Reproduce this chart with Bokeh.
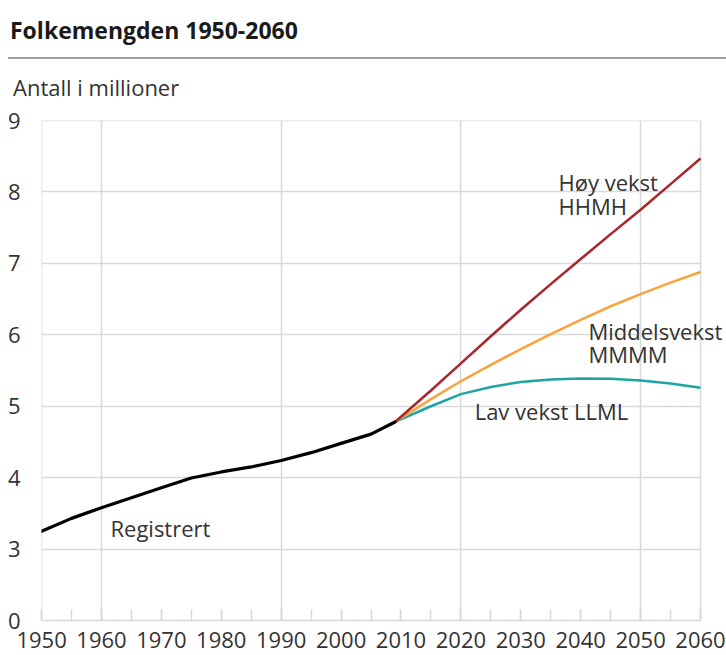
from bokeh.plotting import figure
from bokeh.models import Range1d, FixedTicker, Div
from bokeh.layouts import column
from bokeh.core.properties import value
from bokeh.embed import file_html
from bokeh.resources import INLINE

FONT = "Open Sans"
TXT = "#333333"
GRID = "#d9d9d9"

# Registered population (millions)
reg_years = [1950, 1955, 1960, 1965, 1970, 1975, 1980, 1985, 1990, 1995, 2000, 2005, 2009]
reg_vals = [3.25, 3.43, 3.58, 3.72, 3.86, 3.995, 4.08, 4.15, 4.24, 4.35, 4.48, 4.61, 4.78]

# Projections (millions)
proj_years = [2009, 2015, 2020, 2025, 2030, 2035, 2040, 2045, 2050, 2055, 2060]
high_vals = [4.78, 5.22, 5.60, 5.98, 6.35, 6.71, 7.06, 7.41, 7.75, 8.11, 8.47]
mid_vals = [4.78, 5.10, 5.35, 5.58, 5.80, 6.01, 6.21, 6.40, 6.57, 6.73, 6.88]
low_vals = [4.78, 5.00, 5.17, 5.27, 5.34, 5.375, 5.39, 5.385, 5.36, 5.32, 5.26]

x_labels = list(range(1950, 2061, 10))
x_minor = list(range(1950, 2061, 5))
x_grid = [1950, 1960, 1990, 2020, 2050, 2060]
x_span = (1950, 2060)
y_ticks = [2, 3, 4, 5, 6, 7, 8, 9]
y_grid = [3, 4, 5, 6, 7, 8, 9]
y_labels = {2: "0"}   # broken axis: the baseline is labelled 0

title = "Folkemengden 1950-2060"
subtitle = "Antall i millioner"

W = 726
HEAD_H = 104

header = Div(
    text=(
        f'<div style="position:relative;width:{W}px;height:{HEAD_H}px;font-family:\'{FONT}\';">'
        f'<div style="position:absolute;left:10px;top:15px;font-size:23px;font-weight:bold;'
        f'color:#1a1a1a;line-height:30px;white-space:nowrap;">{title}</div>'
        f'<div style="position:absolute;left:8px;top:57px;width:{W - 8}px;height:2px;background:#a0a0a0;"></div>'
        f'<div style="position:absolute;left:13px;top:72px;font-size:22px;color:{TXT};'
        f'line-height:30px;white-space:nowrap;">{subtitle}</div>'
        '</div>'
    ),
    width=W, height=HEAD_H, margin=(0, 0, 0, 0),
)

# frame runs to the right edge so that labels may pass 2060; grid/axis stop at 2060
p = figure(width=W, height=655 - HEAD_H, x_range=Range1d(1949.99, 2064.34), y_range=Range1d(2, 9.001),
           output_backend="svg", toolbar_location=None, margin=(0, 0, 0, 0),
           min_border_left=41, min_border_right=0, min_border_top=16, min_border_bottom=35)

p.outline_line_color = None

p.xgrid.ticker = FixedTicker(ticks=x_grid)
p.ygrid.ticker = FixedTicker(ticks=y_grid)
p.ygrid.cross_bounds = x_span
p.grid.grid_line_color = GRID
p.grid.grid_line_width = 1.5

p.xaxis.ticker = FixedTicker(ticks=x_labels, minor_ticks=x_minor)
p.xaxis.bounds = x_span
p.xaxis.axis_line_color = GRID
p.xaxis.axis_line_width = 1.5
p.xaxis.major_tick_in = 11
p.xaxis.major_tick_out = 0
p.xaxis.minor_tick_in = 11
p.xaxis.minor_tick_out = 0
p.xaxis.major_tick_line_color = GRID
p.xaxis.minor_tick_line_color = GRID
p.xaxis.major_tick_line_width = 1.5
p.xaxis.minor_tick_line_width = 1.5
p.xaxis.major_label_standoff = 11

p.yaxis.ticker = FixedTicker(ticks=y_ticks)
p.yaxis.major_label_overrides = y_labels
p.yaxis.axis_line_color = None
p.yaxis.major_tick_line_color = None
p.yaxis.minor_tick_line_color = None
p.yaxis.major_label_standoff = 15

for ax in (p.xaxis, p.yaxis):
    ax.major_label_text_font = FONT
    ax.major_label_text_font_size = "22px"
    ax.major_label_text_color = TXT

p.line(proj_years, low_vals, line_color="#1fa3a3", line_width=2.5, line_join="round")
p.line(proj_years, mid_vals, line_color="#f9a33c", line_width=2.5, line_join="round")
p.line(proj_years, high_vals, line_color="#a8282d", line_width=2.6, line_join="round")
p.line(reg_years, reg_vals, line_color="black", line_width=3.2, line_join="round", line_cap="round")

ann_x = [2036.3, 2036.3, 2041.3, 2041.3, 2022.3, 1961.5]
ann_y = [8.14, 7.81, 6.06, 5.73, 4.93, 3.29]
ann_t = ["Høy vekst", "HHMH", "Middelsvekst", "MMMM", "Lav vekst LLML", "Registrert"]
p.text(x=ann_x, y=ann_y, text=ann_t, text_font=value(FONT), text_font_size="22px",
       text_color=TXT, text_baseline="middle", text_align="left")

layout = column(header, p, spacing=0)
open("out.html", "w").write(file_html(layout, INLINE))
